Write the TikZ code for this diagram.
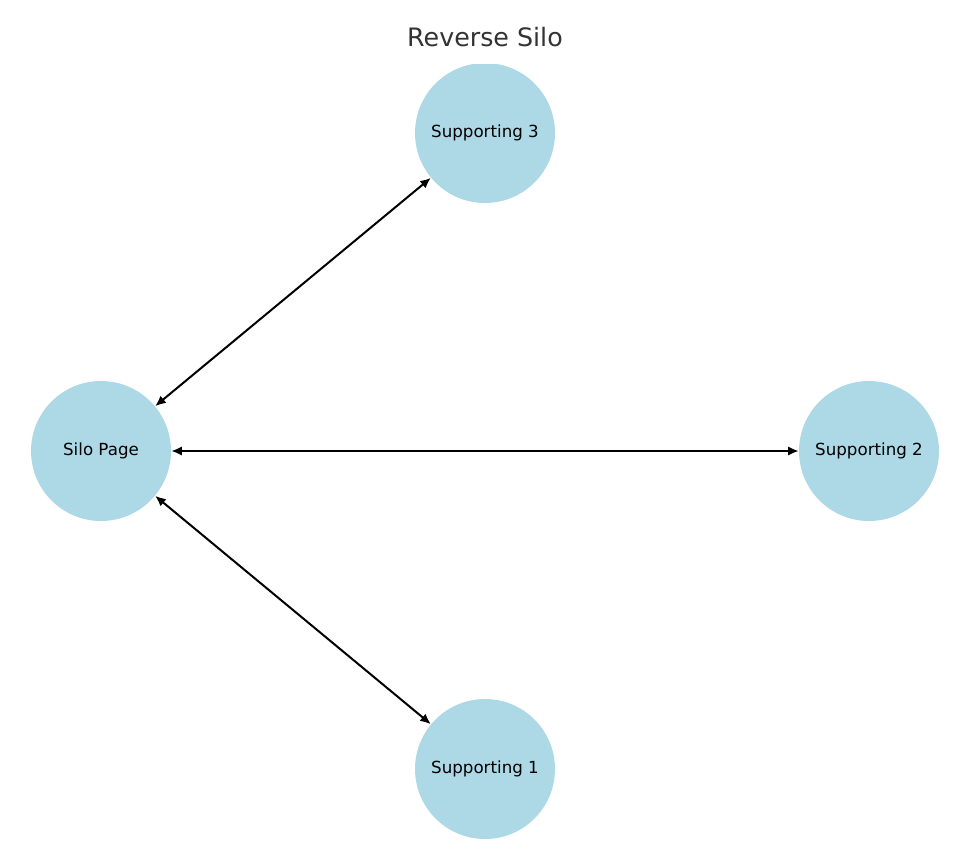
\documentclass[tikz,border=0pt]{standalone}
\usepackage{fontspec}
\setmainfont{DejaVu Sans}
\usetikzlibrary{arrows.meta}
\definecolor{nodeblue}{HTML}{ADD8E6}
\definecolor{titlegray}{HTML}{333333}
\begin{document}
\begin{tikzpicture}[x=0.75pt,y=-0.75pt,
    page/.style={circle,fill=nodeblue,minimum size=105pt,inner sep=0pt,font=\fontsize{12.5}{14}\selectfont},
    link/.style={{Latex[length=8pt,width=7pt]}-{Latex[length=8pt,width=7pt]},line width=1.5pt}]
    \useasboundingbox (0,0) rectangle (969,856);
    \node[font=\fontsize{19}{22}\selectfont,text=titlegray] (title) at (485,37) {Reverse Silo};
    \begin{scope}
        \clip (0,65) rectangle (969,838);
        \node[page] (silo) at (101,451) {};
        \node[page] (s2) at (869,451) {};
        \node[page] (s3) at (485,133) {};
        \node[page] (s1) at (485,769) {};
    \end{scope}
    \node[page,fill=none] (silot) at (101,451) {Silo Page};
    \node[page,fill=none] (s2t) at (869,451) {Supporting 2};
    \node[page,fill=none] (s3t) at (485,133) {Supporting 3};
    \node[page,fill=none] (s1t) at (485,769) {Supporting 1};
    \draw[link] (silo) -- (s3);
    \draw[link] (silo) -- (s2);
    \draw[link] (silo) -- (s1);
\end{tikzpicture}
\end{document}
